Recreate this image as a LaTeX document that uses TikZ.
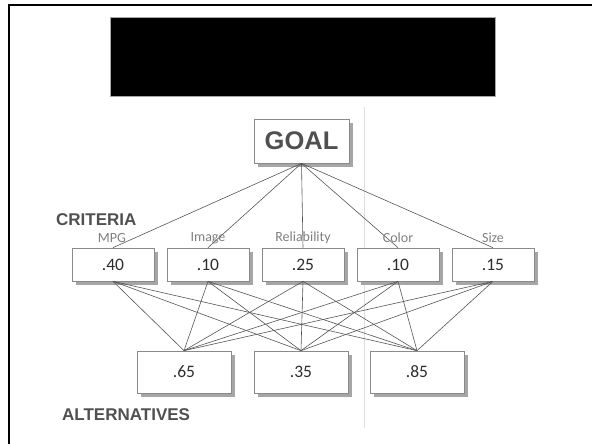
\documentclass[tikz,border=0pt]{standalone}
\usepackage{fontspec}
\setmainfont{Carlito}
\newfontfamily\arialfont{Liberation Sans}
\usetikzlibrary{shadows}
\definecolor{boxline}{HTML}{8A8A8A}
\definecolor{shade}{HTML}{A6A6A6}
\definecolor{linkc}{HTML}{555555}
\definecolor{labelc}{HTML}{7F7F7F}
\definecolor{headc}{HTML}{505050}
\definecolor{numc}{HTML}{2E2E2E}
\tikzset{
  shbox/.style={draw=boxline, line width=0.7pt, fill=white, inner sep=0pt,
    drop shadow={shadow xshift=4pt, shadow yshift=-4pt, fill=shade, opacity=1}},
  critbox/.style={shbox, minimum width=82pt, minimum height=33pt,
    font=\fontsize{17.5}{17.5}\selectfont, text=numc},
  altbox/.style={shbox, minimum width=94pt, minimum height=42pt,
    font=\fontsize{17.5}{17.5}\selectfont, text=numc},
  goalbox/.style={shbox, minimum width=95pt, minimum height=44pt,
    font=\arialfont\bfseries\fontsize{25.5}{25.5}\selectfont, text=headc},
  crlabel/.style={inner sep=0pt, text=labelc, font=\fontsize{14}{14}\selectfont},
  head/.style={inner sep=0pt, anchor=west, text=headc,
    font=\arialfont\bfseries\fontsize{17}{17}\selectfont},
  link/.style={draw=linkc, line width=0.6pt}
}
\begin{document}
\begin{tikzpicture}[x=1pt,y=-1pt]
\useasboundingbox (0,0) rectangle (592,444);
% frame (left and top edges)
\draw[line width=2.6pt, black] (8.8,444) -- (8.8,5) -- (592,5);
% title block
\node[draw=gray!70, fill=black, minimum width=385pt, minimum height=79pt, inner sep=0pt]
  (title) at (302.5,56.5) {};
% vertical guide line
\coordinate (vtop) at (364,107);
\coordinate (vbot) at (364,428);
\draw[black!13, line width=0.8pt] (vtop) -- (vbot);
% node positions (coordinates first, so connectors sit under the boxes)
\coordinate (pg) at (301.5,141);
\coordinate (p1) at (113,264.5);
\coordinate (p2) at (208,264.5);
\coordinate (p3) at (303,264.5);
\coordinate (p4) at (398,264.5);
\coordinate (p5) at (493,264.5);
\coordinate (q1) at (184,372);
\coordinate (q2) at (301,372);
\coordinate (q3) at (417,372);
% goal
\node[goalbox] (goal) at (pg) {GOAL};
% criteria
\node[critbox] (c1) at (p1) {.40};
\node[critbox] (c2) at (p2) {.10};
\node[critbox] (c3) at (p3) {.25};
\node[critbox] (c4) at (p4) {.10};
\node[critbox] (c5) at (p5) {.15};
% alternatives
\node[altbox] (a1) at (q1) {.65};
\node[altbox] (a2) at (q2) {.35};
\node[altbox] (a3) at (q3) {.85};
% connectors
\foreach \c in {c1,c2,c3,c4,c5}{
  \draw[link] (goal.south) -- (\c.north);
  \foreach \a in {a1,a2,a3}{
    \draw[link] (\c.south) -- (\a.north);
  }
}
% labels
\node[crlabel] (l1) at (112,238) {MPG};
\node[crlabel] (l2) at (208,238) {Image};
\node[crlabel] (l3) at (303,238) {Reliability};
\node[crlabel] (l4) at (398,238) {Color};
\node[crlabel] (l5) at (493,238) {Size};
\node[head] (crit) at (56,220) {CRITERIA};
\node[head] (alts) at (62,415) {ALTERNATIVES};
\end{tikzpicture}
\end{document}
